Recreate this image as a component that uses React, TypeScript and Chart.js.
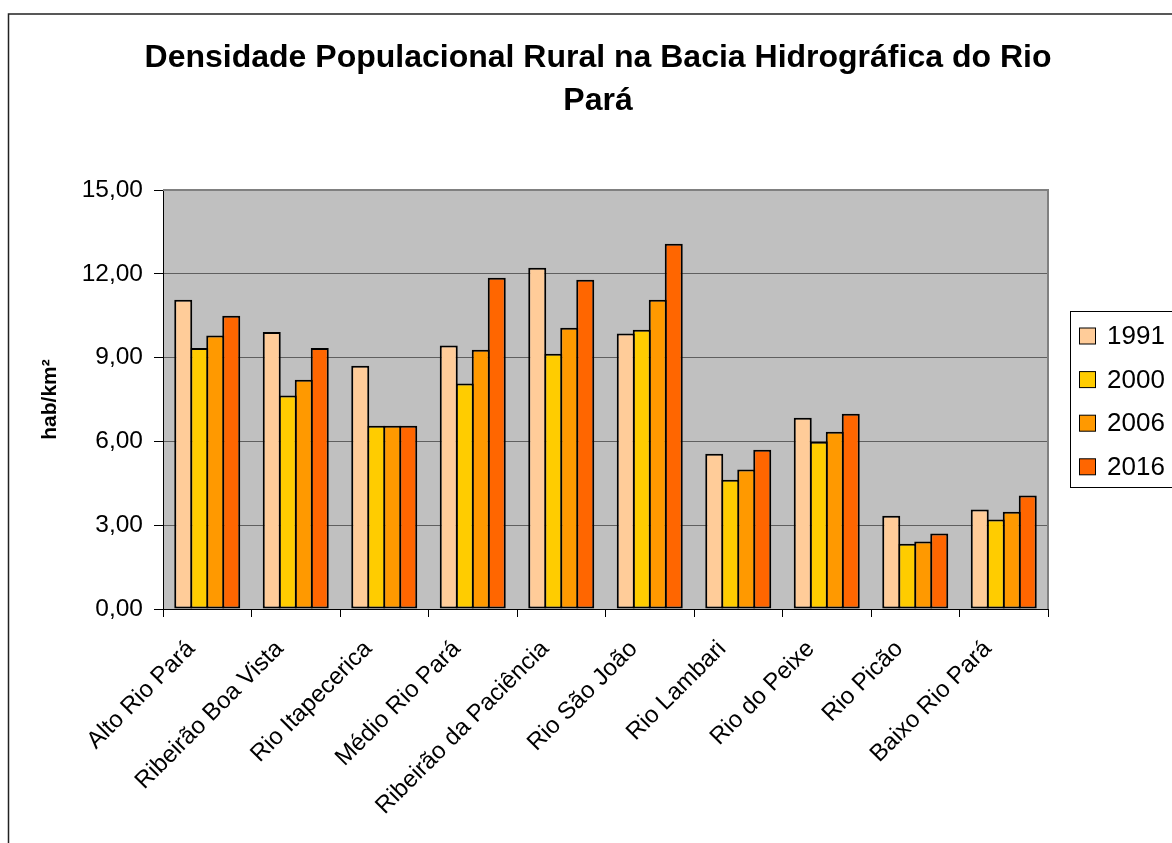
import { useEffect, useRef } from 'react';
import { Chart, registerables } from 'chart.js';

Chart.register(...registerables);

const TITLE_LINES = ['Densidade Populacional Rural na Bacia Hidrográfica do Rio', 'Pará'];
const Y_TITLE = 'hab/km²';
const categories = [
  'Alto Rio Pará',
  'Ribeirão Boa Vista',
  'Rio Itapecerica',
  'Médio Rio Pará',
  'Ribeirão da Paciência',
  'Rio São João',
  'Rio Lambari',
  'Rio do Peixe',
  'Rio Picão',
  'Baixo Rio Pará',
];
const seriesNames = ['1991', '2000', '2006', '2016'];
const values1991 = [11.07, 9.92, 8.71, 9.43, 12.22, 9.86, 5.56, 6.85, 3.34, 3.56];
const values2000 = [9.34, 7.64, 6.56, 8.07, 9.14, 10.0, 4.63, 5.99, 2.34, 3.2];
const values2006 = [9.79, 8.21, 6.56, 9.28, 10.07, 11.07, 4.99, 6.35, 2.42, 3.48];
const values2016 = [10.5, 9.34, 6.56, 11.86, 11.79, 13.08, 5.7, 6.99, 2.7, 4.06];
const seriesColors = ['#FFCC99', '#FFCC00', '#FF9900', '#FF6600'];
const yMin = 0;
const yMax = 15;
const yStep = 3;

const FONT = '"Liberation Sans", Arial, sans-serif';

const decorPlugin = {
  id: 'decor',
  beforeDraw(chart: any) {
    const { ctx, chartArea } = chart;
    ctx.save();
    ctx.fillStyle = '#ffffff';
    ctx.fillRect(0, 0, chart.width, chart.height);
    ctx.fillStyle = '#C0C0C0';
    ctx.fillRect(chartArea.left, chartArea.top, chartArea.right - chartArea.left, chartArea.bottom - chartArea.top);
    ctx.restore();
  },
  afterDraw(chart: any) {
    const { ctx, chartArea } = chart;
    ctx.save();
    // plot area top/right border
    ctx.strokeStyle = '#808080';
    ctx.lineWidth = 2;
    ctx.beginPath();
    ctx.moveTo(chartArea.left, chartArea.top);
    ctx.lineTo(chartArea.right, chartArea.top);
    ctx.lineTo(chartArea.right, chartArea.bottom);
    ctx.stroke();
    // outer chart border
    ctx.strokeStyle = '#222';
    ctx.lineWidth = 1.5;
    ctx.strokeRect(8.5, 14, chart.width + 50, chart.height + 50);
    // legend
    ctx.strokeStyle = '#000';
    ctx.lineWidth = 1;
    ctx.strokeRect(1070.5, 311.5, 200, 176);
    ctx.font = `26px ${FONT}`;
    ctx.textBaseline = 'middle';
    ctx.textAlign = 'left';
    chart.data.datasets.forEach((ds: any, i: number) => {
      const cy = 336 + i * 43.6;
      ctx.fillStyle = ds.backgroundColor;
      ctx.fillRect(1079.5, cy - 8, 16, 16);
      ctx.strokeStyle = '#000';
      ctx.strokeRect(1079.5, cy - 8, 16, 16);
      ctx.fillStyle = '#000';
      ctx.fillText(ds.label, 1107, cy + 1);
    });
    ctx.restore();
  },
};

export default function App() {
  const canvasRef = useRef<HTMLCanvasElement | null>(null);

  useEffect(() => {
    if (!canvasRef.current) return;
    const seriesValues = [values1991, values2000, values2006, values2016];
    const chart = new Chart(canvasRef.current, {
      type: 'bar',
      data: {
        labels: categories,
        datasets: seriesNames.map((name, i) => ({
          label: name,
          data: seriesValues[i],
          backgroundColor: seriesColors[i],
          borderColor: '#000000',
          borderWidth: 2,
          borderSkipped: false,
          categoryPercentage: 0.7232,
          barPercentage: 1.125,
        })),
      },
      options: {
        responsive: false,
        animation: false,
        devicePixelRatio: 1,
        layout: { padding: { left: 0, right: 0, top: 0, bottom: 0 } },
        plugins: {
          legend: { display: false },
          tooltip: { enabled: false },
          title: {
            display: true,
            text: TITLE_LINES,
            color: '#000',
            font: { family: FONT, size: 32, weight: 'bold', lineHeight: 1.344 },
            padding: { top: 37, bottom: 67 },
          },
        },
        scales: {
          x: {
            offset: true,
            grid: {
              display: true,
              drawOnChartArea: false,
              drawTicks: true,
              tickLength: 8,
              tickColor: '#000',
              offset: true,
            },
            border: { display: true, color: '#000', width: 1 },
            ticks: {
              autoSkip: false,
              minRotation: 45,
              maxRotation: 45,
              color: '#000',
              padding: 18,
              labelOffset: -16,
              font: { family: FONT, size: 24 },
            },
            afterFit(scale: any) {
              scale.height = 234;
            },
          },
          y: {
            min: yMin,
            max: yMax,
            grid: {
              color: '#5f5f5f',
              lineWidth: 1,
              tickLength: 9,
              tickColor: '#000',
            },
            border: { display: true, color: '#000', width: 1 },
            ticks: {
              stepSize: yStep,
              color: '#000',
              padding: 11,
              font: { family: FONT, size: 24.5 },
              callback: (v: any) => Number(v).toFixed(2).replace('.', ','),
            },
            title: {
              display: true,
              text: Y_TITLE,
              color: '#000',
              font: { family: FONT, size: 21, weight: 'bold', lineHeight: 1.2 },
              padding: { top: 38, bottom: 0 },
            },
            afterFit(scale: any) {
              scale.width = 163;
            },
          },
          legendSpace: {
            type: 'linear',
            position: 'right',
            display: true,
            grid: { display: false },
            border: { display: false },
            ticks: { display: false },
            afterFit(scale: any) {
              scale.width = 148;
            },
          },
        },
      },
      plugins: [decorPlugin],
    });
    return () => chart.destroy();
  }, []);

  return (
    <div style={{ position: 'fixed', left: 0, top: 0, width: 1172, height: 843, overflow: 'hidden', background: '#fff' }}>
      <canvas ref={canvasRef} width={1196} height={843} style={{ display: 'block', width: 1196, height: 843 }} />
    </div>
  );
}
